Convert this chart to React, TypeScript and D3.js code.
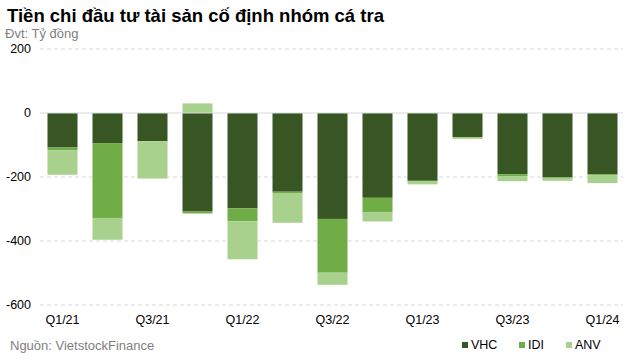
import React from "react";
import * as d3 from "d3";

const quarters = ["Q1/21", "Q2/21", "Q3/21", "Q4/21", "Q1/22", "Q2/22", "Q3/22", "Q4/22", "Q1/23", "Q2/23", "Q3/23", "Q4/23", "Q1/24"];
const vhc = [-108, -94, -88, -308, -298, -246, -331, -265, -212, -75, -191, -201, -191];
const idi = [-8, -234, 0, -6, -40, -4, -168, -46, 0, 0, -6, -4, -3];
const anv = [-77, -68, -117, 30, -119, -93, -38, -28, -11, -6, -16, -7, -25];
const yTicks = [200, 0, -200, -400, -600];

const seriesNames = ["VHC", "IDI", "ANV"];
const colors = ["#375623", "#70AD47", "#A9D18E"];

const WIDTH = 640;
const HEIGHT = 361;
const MARGIN = { top: 49, right: 15, bottom: 56, left: 40 };

const App = () => {
  const x = d3.scaleBand().domain(quarters).range([MARGIN.left, WIDTH - MARGIN.right]).paddingInner(1 / 3).paddingOuter(1 / 6);
  const y = d3.scaleLinear().domain([200, -600]).range([MARGIN.top, HEIGHT - MARGIN.bottom]);

  const allSeries = [vhc, idi, anv];

  // stack: negatives pile downwards, positives upwards
  const rects: JSX.Element[] = [];
  quarters.forEach((q, i) => {
    let neg = 0;
    let pos = 0;
    allSeries.forEach((s, k) => {
      const v = s[i];
      if (v === 0) return;
      let y0, y1;
      if (v < 0) {
        y0 = neg;
        y1 = neg + v;
        neg = y1;
      } else {
        y0 = pos;
        y1 = pos + v;
        pos = y1;
      }
      rects.push(
        <rect
          key={q + k}
          x={x(q)}
          width={x.bandwidth()}
          y={y(Math.max(y0, y1))}
          height={Math.abs(y(y0) - y(y1))}
          fill={colors[k]}
        />
      );
    });
  });

  const font = "Liberation Sans, Arial, sans-serif";

  return (
    <svg width={WIDTH} height={HEIGHT} style={{ position: "absolute", left: 0, top: 0 }} fontFamily={font}>
      <rect width={WIDTH} height={HEIGHT} fill="#fff" />
      <text x={7} y={22} fontSize={18.5} fontWeight="bold" fill="#000">Tiền chi đầu tư tài sản cố định nhóm cá tra</text>
      <text x={5} y={38} fontSize={13} fill="#808080">Đvt: Tỷ đồng</text>

      {yTicks.map(t => (
        <g key={t}>
          {t !== 0 && (
            <line x1={MARGIN.left} x2={WIDTH - MARGIN.right - 2} y1={y(t)} y2={y(t)} stroke="#d9d9d9" strokeDasharray="4,3" />
          )}
          <text x={31} y={y(t)} dy="0.35em" textAnchor="end" fontSize={12.5} fill="#000">{t}</text>
        </g>
      ))}

      {rects}
      <line x1={MARGIN.left} x2={WIDTH - MARGIN.right - 2} y1={y(0)} y2={y(0)} stroke="#d9d9d9" />

      {quarters.map((q, i) => i % 2 === 0 && (
        <text key={q} x={(x(q) ?? 0) + x.bandwidth() / 2} y={324} textAnchor="middle" fontSize={12.5} fill="#000">{q}</text>
      ))}

      <text x={10} y={350} fontSize={13} fill="#808080">Nguồn:  VietstockFinance</text>

      {seriesNames.map((n, k) => {
        const lx = [462, 519, 566][k];
        return (
          <g key={n}>
            <rect x={lx} y={342} width={6} height={6} fill={colors[k]} />
            <text x={lx + 9} y={349} fontSize={12.5} fill="#000">{n}</text>
          </g>
        );
      })}
    </svg>
  );
};

export default App;
